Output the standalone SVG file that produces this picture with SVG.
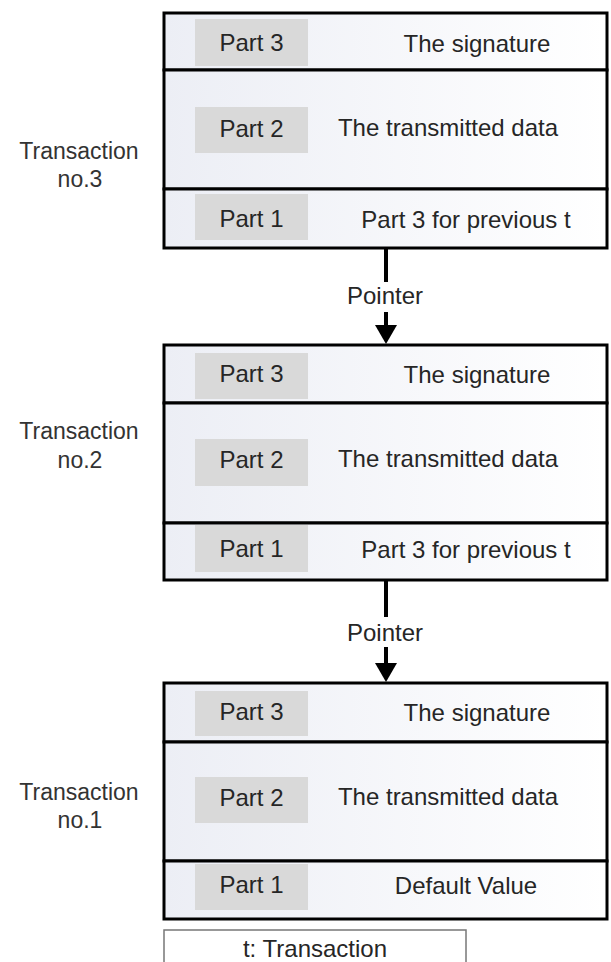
<svg xmlns="http://www.w3.org/2000/svg" width="611" height="962" viewBox="0 0 611 962">
<defs>
<linearGradient id="rowfill" x1="0" y1="0" x2="1" y2="0">
<stop offset="0" stop-color="#eceef5"/>
<stop offset="1" stop-color="#ffffff"/>
</linearGradient>
<marker id="arrow" markerWidth="6" markerHeight="5" refX="5" refY="2.5" orient="auto" markerUnits="strokeWidth">
<path d="M0,0 L5.5,2.5 L0,5 Z" fill="#000"/>
</marker>
<style>
.row{fill:url(#rowfill);stroke:#000;stroke-width:3}
.part{fill:#d9d9d9}
.t{font-family:"Liberation Sans",Arial,sans-serif;font-size:24px;fill:#262626;text-anchor:middle}
.lbl{font-family:"Liberation Sans",Arial,sans-serif;font-size:23px;fill:#333;text-anchor:middle}
.conn{stroke:#000;stroke-width:4;fill:none}
.legend{fill:#fff;stroke:#777;stroke-width:1.5}
</style>
</defs>
<rect width="611" height="962" fill="#fff"/>

<g id="transaction3">
<rect class="row" x="164" y="13" width="443" height="57"/>
<rect class="row" x="164" y="70" width="443" height="119"/>
<rect class="row" x="164" y="189" width="443" height="59"/>
<rect class="part" x="195" y="19" width="113" height="47"/>
<rect class="part" x="195" y="107" width="113" height="46"/>
<rect class="part" x="195" y="194" width="113" height="46"/>
<text class="t" x="251.5" y="51">Part 3</text>
<text class="t" x="477" y="52">The signature</text>
<text class="t" x="251.5" y="137">Part 2</text>
<text class="t" x="448" y="136">The transmitted data</text>
<text class="t" x="251.5" y="227">Part 1</text>
<text class="t" x="466" y="228">Part 3 for previous t</text>
<text class="lbl" x="79" y="159">Transaction</text>
<text class="lbl" x="80" y="187">no.3</text>
</g>

<g id="transaction2">
<rect class="row" x="164" y="345" width="443" height="58"/>
<rect class="row" x="164" y="403" width="443" height="120"/>
<rect class="row" x="164" y="523" width="443" height="57"/>
<rect class="part" x="195" y="353" width="113" height="46"/>
<rect class="part" x="195" y="439" width="113" height="47"/>
<rect class="part" x="195" y="525" width="113" height="47"/>
<text class="t" x="251.5" y="382">Part 3</text>
<text class="t" x="477" y="383">The signature</text>
<text class="t" x="251.5" y="468">Part 2</text>
<text class="t" x="448" y="467">The transmitted data</text>
<text class="t" x="251.5" y="557">Part 1</text>
<text class="t" x="466" y="558">Part 3 for previous t</text>
<text class="lbl" x="79" y="439">Transaction</text>
<text class="lbl" x="80" y="468">no.2</text>
</g>

<g id="transaction1">
<rect class="row" x="164" y="683" width="443" height="59"/>
<rect class="row" x="164" y="742" width="443" height="119"/>
<rect class="row" x="164" y="861" width="443" height="58"/>
<rect class="part" x="195" y="691" width="113" height="45"/>
<rect class="part" x="195" y="777" width="113" height="46"/>
<rect class="part" x="195" y="864" width="113" height="46"/>
<text class="t" x="251.5" y="720">Part 3</text>
<text class="t" x="477" y="721">The signature</text>
<text class="t" x="251.5" y="806">Part 2</text>
<text class="t" x="448" y="805">The transmitted data</text>
<text class="t" x="251.5" y="893">Part 1</text>
<text class="t" x="466" y="894">Default Value</text>
<text class="lbl" x="79" y="800">Transaction</text>
<text class="lbl" x="80" y="828">no.1</text>
</g>

<g id="connectors">
<line class="conn" x1="386" y1="249" x2="386" y2="282"/>
<line class="conn" x1="386" y1="312" x2="386" y2="326"/>
<path d="M375,325 L397,325 L386,344 Z" fill="#000"/>
<text class="t" x="385" y="304">Pointer</text>
<line class="conn" x1="386" y1="581" x2="386" y2="617"/>
<line class="conn" x1="386" y1="647" x2="386" y2="664"/>
<path d="M375,663 L397,663 L386,682 Z" fill="#000"/>
<text class="t" x="385" y="641">Pointer</text>
</g>

<g id="legend">
<rect class="legend" x="164" y="930" width="302" height="40"/>
<text class="t" x="315" y="957">t: Transaction</text>
</g>
</svg>
